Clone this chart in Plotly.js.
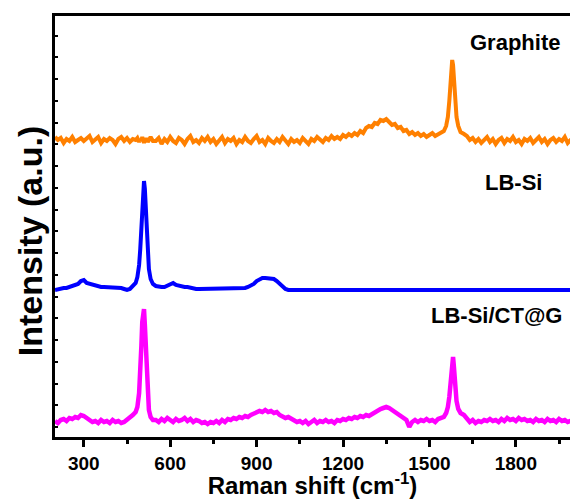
<!DOCTYPE html>
<html>
<head>
<meta charset="utf-8">
<script src="https://cdn.plot.ly/plotly-3.0.1.min.js"></script>
<style>html,body{margin:0;padding:0;background:#fff;}#chart{width:570px;height:499px;}</style>
</head>
<body>
<div id="chart"></div>
<script>
// Raman shift (cm-1)
const ramanShift = [
  200,210,220,230,240,250,260,270,280,290, 300,310,320,330,340,350,360,370,380,390, 400,410,420,430,440,450,460,470,480,
  486,492,496,500,503,506,509,512,515,518,522,526,532,540,
  550,560,570,580,590,600,610,620,630,640,
  650,660,670,680,690,700,710,720,730,740,
  750,760,770,780,790,800,810,820,830,840,
  850,860,870,880,890,900,910,920,930,940,
  950,960,970,980,990,1000,1010,1020,1030,1040,
  1050,1060,1070,1080,1090,1100,1110,1120,1130,1140,
  1150,1160,1170,1180,1190,1200,1210,1220,1230,1240,
  1250,1260,1270,1280,1290,1300,1310,1320,1330,1340,
  1350,1360,1370,1380,1390,1400,1410,1420,1430,1440,
  1450,1460,1470,1480,1490,1500,1510,1520,1530,1540,
  1550,1558,1564,1569,1573,1576,1579,1582,1585,1589,1594,1600,1608,
  1620,1630,1640,1650,1660,1670,1680,1690,1700,1710,
  1720,1730,1740,1750,1760,1770,1780,1790,1800,1810,
  1820,1830,1840,1850,1860,1870,1880,1890,1900,1910,
  1920,1930,1940,1950,1960,1970,1980,1990,2000
];

// Intensity (a.u., stacked with offsets as in the figure)
const graphite = [
  300,297,299,294,298,296,300,295,297,299, 296,298,301,295,297,300,294,298,296,299, 297,293,298,300,296,299,295,298,297,
  299,295,298,296,300,297,294,298,296,299,295,297,300,296,
  296,299,293,298,295,300,296,294,299,297,
  293,298,301,295,297,294,299,296,300,295,
  298,293,297,300,294,298,296,299,293,297,
  295,300,296,294,298,301,295,297,293,299,
  296,294,298,295,300,296,293,298,295,297,
  294,299,296,293,298,296,300,297,295,299,
  297,301,298,300,298,302,300,303,301,304,
  302,306,304,309,311,310,314,313,317,316,
  318,315,312,313,309,310,306,307,303,305,
  302,304,301,303,300,302,304,301,303,305,
  306,311,320,336,356,370,377,372,358,338,320,311,305,
  303,301,297,299,295,298,294,297,300,295,
  298,293,297,299,294,298,296,300,295,297,
  293,298,296,299,294,297,300,295,298,293,
  297,299,295,298,296,300,294,297,298
];

const lbSi = [
  147,148,148,149,149,150,150,151,153,156, 157,154,153,152,151,151,150,150,150,150, 149,149,149,149,148,147,148,151,154,
  160,172,188,210,232,250,256,248,228,206,182,168,158,153,
  151,150,150,150,151,153,154,152,151,151,
  150,150,149,149,148,148,148,148,148,148,
  148,148,148,148,148,148,148,148,148,149,
  149,149,150,151,153,156,158,159,159,159,
  158,158,156,153,150,148,147,147,147,147,
  147,147,147,147,147,147,147,147,147,147,
  147,147,147,147,147,147,147,147,147,147,
  147,147,147,147,147,147,147,147,147,147,
  147,147,147,147,147,147,147,147,147,147,
  147,147,147,147,147,147,147,147,147,147,
  147,147,147,147,147,147,147,147,147,147,147,147,147,
  147,147,147,147,147,147,147,147,147,147,
  147,147,147,147,147,147,147,147,147,147,
  147,147,147,147,147,147,147,147,147,147,
  147,147,147,147,147,147,147,147,147
];

const lbSiCtG = [
  16,14,17,18,16,19,18,20,19,22, 21,19,17,15,16,14,17,15,16,14, 17,15,16,14,15,17,20,22,25,
  30,44,62,92,115,128,128,112,88,62,40,27,20,17,
  17,15,18,16,19,17,15,18,16,17,
  19,16,18,15,17,16,14,15,13,15,
  14,16,14,17,15,18,17,19,18,20,
  19,21,20,22,23,24,26,25,27,25,
  26,24,25,22,21,19,20,18,17,15,
  16,14,16,13,15,17,14,16,15,17,
  15,16,14,17,16,18,17,19,18,20,
  19,21,20,22,21,23,24,26,28,29,
  30,29,27,26,23,21,19,17,10,15,
  17,15,17,16,18,16,17,15,18,19,
  20,24,30,40,55,68,79,80,70,52,36,28,24,
  22,18,15,17,14,16,15,17,16,18,
  16,17,15,18,16,19,17,18,16,19,
  17,18,16,17,15,18,16,17,15,18,
  16,17,15,18,16,17,15,16,17
];

const seriesNames = ['Graphite', 'LB-Si', 'LB-Si/CT@G'];
const seriesColors = ['#FF8000', '#0000FF', '#FF00FF'];
const tickVals = [300, 600, 900, 1200, 1500, 1800];
const tickText = ['300', '600', '900', '1200', '1500', '1800'];
const minorTickVals = [450, 750, 1050, 1350, 1650, 1950];

const seriesData = [graphite, lbSi, lbSiCtG];
const widths = [4, 4, 4.5];
const traces = seriesData.map((ys, i) => ({
  x: ramanShift, y: ys, type: 'scatter', mode: 'lines', name: seriesNames[i],
  line: {color: seriesColors[i], width: widths[i]}
}));

const FONT = 'Arial, "Liberation Sans", Helvetica, sans-serif';
const labelPos = [
  {x: 1960, y: 395},
  {x: 1898, y: 255},
  {x: 1967, y: 122}
];
const annotations = seriesNames.map((n, i) => ({
  text: n, xref: 'x', yref: 'y', x: labelPos[i].x, y: labelPos[i].y,
  xanchor: 'right', yanchor: 'middle', showarrow: false,
  font: {family: FONT, size: 22, weight: 'bold', color: '#000'}
}));
annotations.push({
  text: 'Intensity (a.u.)', xref: 'paper', yref: 'paper', x: 0, y: 0.465,
  xshift: -25, xanchor: 'center', yanchor: 'middle', textangle: -90, showarrow: false,
  font: {family: FONT, size: 34, weight: 'bold', color: '#000'}
});

const layout = {
  width: 570, height: 499,
  margin: {l: 55, r: 0, t: 16, b: 62, pad: 0},
  paper_bgcolor: '#fff', plot_bgcolor: '#fff',
  showlegend: false,
  font: {family: FONT, color: '#000'},
  xaxis: {
    range: [200, 1988], showgrid: false, zeroline: false,
    showline: true, linewidth: 3, linecolor: '#000', mirror: true,
    tickmode: 'array', tickvals: tickVals, ticktext: tickText,
    ticks: 'outside', ticklen: 7, tickwidth: 3, tickcolor: '#000',
    minor: {tickmode: 'array', tickvals: minorTickVals, ticks: 'outside', ticklen: 4, tickwidth: 3, tickcolor: '#000', showgrid: false},
    tickfont: {family: FONT, size: 19, weight: 'bold', color: '#000'},
    title: {text: 'Raman shift (cm<sup>-1</sup>)', font: {family: FONT, size: 24, weight: 'bold', color: '#000'}, standoff: 2}
  },
  yaxis: {
    range: [0, 421], showgrid: false, zeroline: false,
    showline: true, linewidth: 3, linecolor: '#000', mirror: true,
    showticklabels: false,
    ticks: 'inside', tick0: 10, dtick: 21.75, ticklen: 3, tickwidth: 2, tickcolor: '#000'
  },
  annotations: annotations
};

Plotly.newPlot('chart', traces, layout, {displayModeBar: false, staticPlot: true});
</script>
</body>
</html>
